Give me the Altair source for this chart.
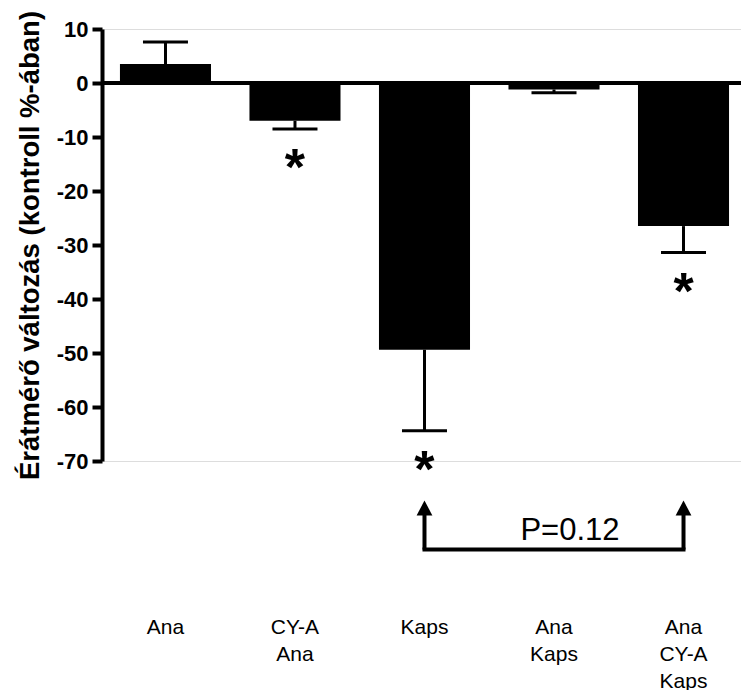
import altair as alt
import pandas as pd

categories = ["Ana", "CY-A\nAna", "Kaps", "Ana\nKaps", "Ana\nCY-A\nKaps"]
means = [3.5, -7.0, -49.4, -1.2, -26.5]
err_ends = [7.6, -8.5, -64.4, -1.8, -31.4]
stars = ["", "*", "*", "", "*"]
y_ticks = [10, 0, -10, -20, -30, -40, -50, -60, -70]
y_title = "Érátmérő változás (kontroll %-ában)"

p_label = "P=0.12"
p_anchor = "Ana\nKaps"
bracket_from = "Kaps"
bracket_to = "Ana\nCY-A\nKaps"
bracket_level = -86.4
arrow_level = -78.7
p_level = -84.6

FONT = "Liberation Sans"
W, H = 639, 432

df = pd.DataFrame({"cat": categories, "mean": means, "err": err_ends, "star": stars})
df_arrows = pd.DataFrame({"cat": [bracket_from, bracket_to]})
df_span = pd.DataFrame({"cat": [bracket_from], "cat_end": [bracket_to]})
df_p = pd.DataFrame({"cat": [p_anchor], "label": [p_label]})

xscale = alt.Scale(domain=categories, paddingInner=0.297, paddingOuter=0.1155, align=0.6)
yscale = alt.Scale(domain=[-70, 10], nice=False, zero=False)

x_enc = alt.X(
    "cat:N", scale=xscale, sort=categories,
    axis=alt.Axis(
        title=None, orient="bottom", domain=False, ticks=False, tickSize=0,
        labelAngle=0, labelExpr="split(datum.label, '\\n')",
        labelFont=FONT, labelFontSize=21, labelColor="black",
        labelPadding=172, labelBaseline="alphabetic", labelLineHeight=27,
    ),
)
y_enc = alt.Y(
    "mean:Q", scale=yscale,
    axis=alt.Axis(
        values=y_ticks, title=y_title, grid=False,
        labelExpr="replace(datum.label, '\u2212', '-')",
        domainWidth=4, domainColor="black",
        tickWidth=4, tickColor="black", tickSize=10, labelPadding=4,
        labelFont=FONT, labelFontWeight="bold", labelFontSize=22, labelColor="black",
        titleFont=FONT, titleFontWeight="bold", titleFontSize=27.5, titleColor="black",
        titleX=-64, titleY=216, titleAngle=270, titleBaseline="alphabetic", titleAlign="center",
    ),
)

base = alt.Chart(df)

bars = base.mark_bar(color="black").encode(x=x_enc, y=y_enc, y2=alt.datum(0))

zero_line = base.mark_rule(color="black", strokeWidth=4).encode(
    y=alt.datum(0), x=alt.value(0), x2=alt.value(W)
)

err_lines = base.mark_rule(color="black", strokeWidth=3).encode(
    x=alt.X("cat:N", sort=categories), y="mean:Q", y2="err:Q"
)
caps = base.mark_tick(color="black", size=45, thickness=3, opacity=1).encode(
    x=alt.X("cat:N", sort=categories), y="err:Q"
)
star_text = base.mark_text(
    font=FONT, fontWeight="bold", fontSize=52, color="black", baseline="middle", dy=40
).encode(x=alt.X("cat:N", sort=categories), y="err:Q", text="star:N")

arrow_shafts = alt.Chart(df_arrows).mark_rule(color="black", strokeWidth=4).encode(
    x=alt.X("cat:N", sort=categories), y=alt.datum(bracket_level), y2=alt.datum(arrow_level)
)
arrow_heads = alt.Chart(df_arrows).mark_point(
    shape="M0,-1L1.05,1L-1.05,1Z", size=225, filled=True, color="black", opacity=1
).encode(x=alt.X("cat:N", sort=categories), y=alt.datum(arrow_level))
span = alt.Chart(df_span).mark_rule(color="black", strokeWidth=4, strokeCap="square").encode(
    x=alt.X("cat:N", sort=categories), x2="cat_end:N", y=alt.datum(bracket_level)
)
p_text = alt.Chart(df_p).mark_text(
    font=FONT, fontSize=31, color="black", baseline="alphabetic", align="center", dx=16
).encode(x=alt.X("cat:N", sort=categories), y=alt.datum(p_level), text="label:N")

chart = alt.layer(
    bars, zero_line, err_lines, caps, star_text, arrow_shafts, span, arrow_heads, p_text
).properties(
    width=W, height=H,
    autosize=alt.AutoSizeParams(type="none"),
    padding={"left": 102, "top": 29, "right": 0, "bottom": 229},
).configure_view(stroke=None).configure(background="white")

chart.save("out.html", embed_options={"renderer": "svg", "actions": False})
